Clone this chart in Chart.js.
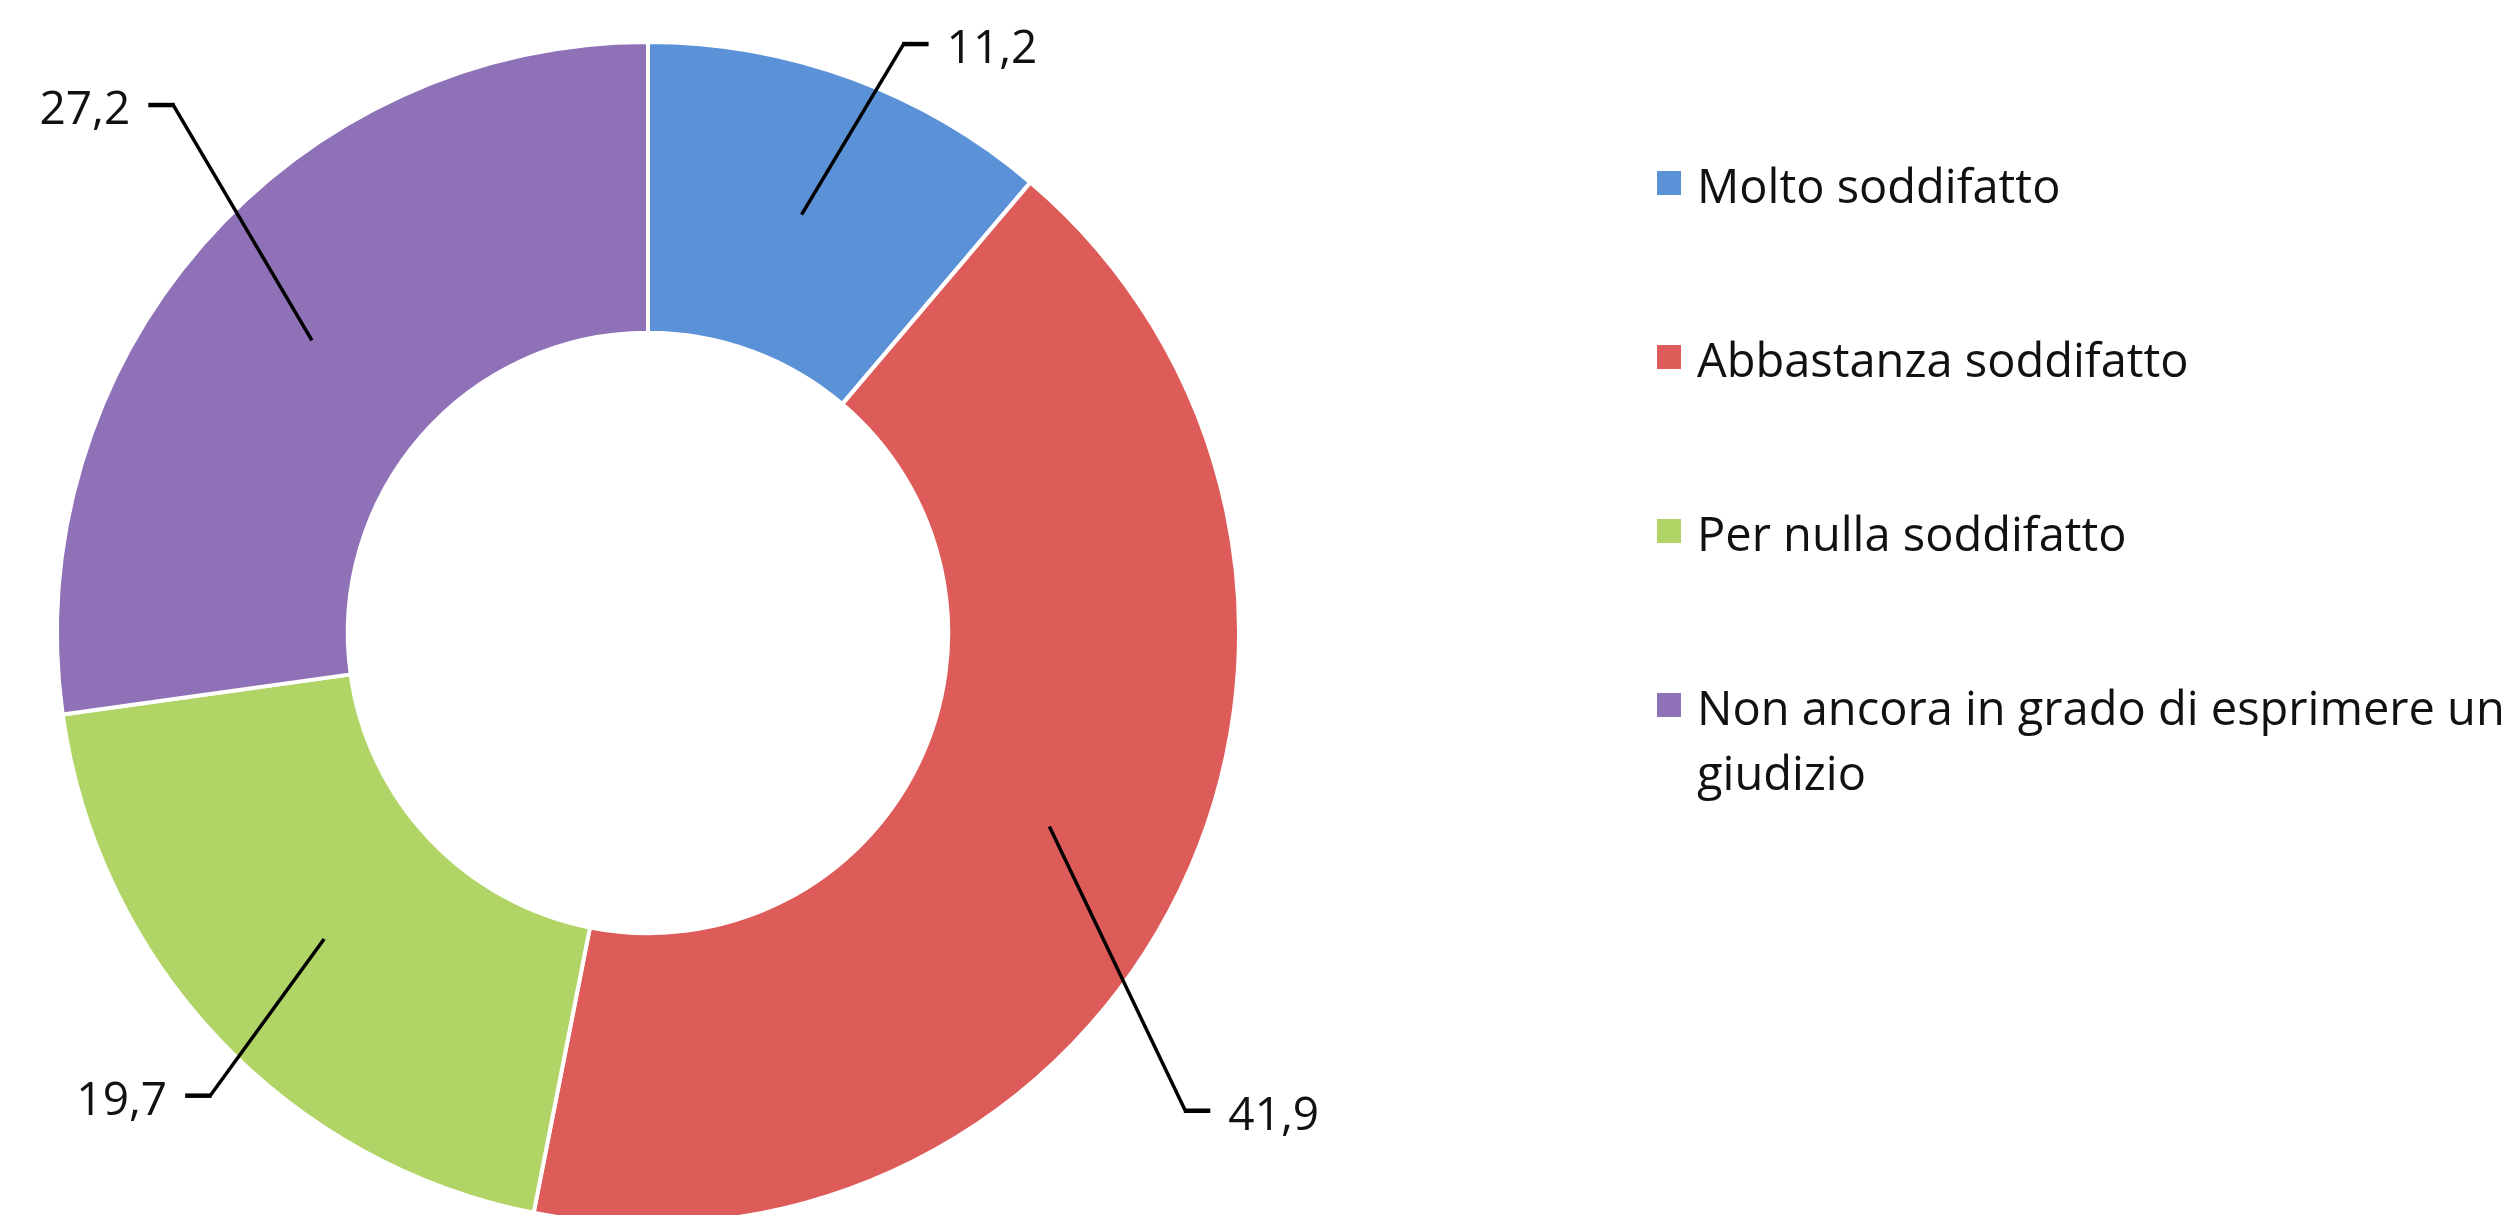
<!DOCTYPE html>
<html>
<head>
<meta charset="utf-8">
<script src="https://cdn.jsdelivr.net/npm/chart.js@4.4.1/dist/chart.umd.min.js"></script>
<style>
  html, body { margin: 0; padding: 0; background: #ffffff; overflow: hidden; width: 2520px; height: 1215px; }
  #wrap { position: relative; width: 2520px; height: 1215px; }
  #c { position: absolute; left: 0; top: 0; }
  #legend { position: absolute; left: 0; top: 0; width: 2520px; height: 1215px; pointer-events: none;
            font-family: 'Open Sans', sans-serif; font-size: 47px; line-height: 65px; color: #111; }
  .item { position: absolute; left: 1657px; width: 860px; }
  .swatch { position: absolute; left: 0; top: 18px; width: 24px; height: 24px; }
  .text { position: absolute; left: 40px; top: 0; width: 815px; white-space: normal; }
</style>
</head>
<body>
<div id="wrap">
  <canvas id="c" width="2520" height="1215"></canvas>
  <div id="legend"></div>
</div>
<script>
// ---- data ----
const categories = [
  'Molto soddifatto',
  'Abbastanza soddifatto',
  'Per nulla soddifatto',
  'Non ancora in grado di esprimere un giudizio'
];
const values = [11.2, 41.9, 19.7, 27.2];

// ---- styles ----
const sliceColors = ['#5B92D7', '#DD5B59', '#B1D467', '#8F71B7'];

function fmt(v) { return v.toFixed(1).replace('.', ','); }

const leaderPlugin = {
  id: 'leaders',
  afterDatasetsDraw(chart, args, opts) {
    const ctx = chart.ctx;
    const meta = chart.getDatasetMeta(0);
    const ds = chart.data.datasets[0];
    meta.data.forEach((arc, i) => {
      const p = arc.getProps(['x', 'y', 'startAngle', 'endAngle', 'innerRadius', 'outerRadius'], true);
      const place = opts.placement[i];
      const mid = (p.startAngle + p.endAngle) / 2;
      const rIn = (p.innerRadius + p.outerRadius) / 2;
      const x0 = p.x + Math.cos(mid) * rIn;
      const y0 = p.y + Math.sin(mid) * rIn;
      const a = mid + place.dAngle * Math.PI / 180;
      const r = p.outerRadius + place.ext;
      const x1 = p.x + Math.cos(a) * r;
      const y1 = p.y + Math.sin(a) * r;
      const dir = Math.cos(a) >= 0 ? 1 : -1;
      const x2 = x1 + dir * opts.tick;
      ctx.save();
      ctx.strokeStyle = '#000';
      ctx.lineWidth = opts.lineWidth;
      ctx.lineJoin = 'miter';
      ctx.beginPath();
      ctx.moveTo(x0, y0);
      ctx.lineTo(x1, y1);
      ctx.stroke();
      ctx.lineWidth = opts.tickWidth;
      ctx.beginPath();
      ctx.moveTo(x1 - dir * 1.5, y1);
      ctx.lineTo(x2, y1);
      ctx.stroke();
      ctx.font = opts.font;
      ctx.fillStyle = '#111';
      ctx.textAlign = dir > 0 ? 'left' : 'right';
      ctx.textBaseline = 'alphabetic';
      ctx.fillText(fmt(ds.data[i]), x2 + dir * opts.gap, y1 + opts.baselineShift);
      ctx.restore();
    });
  }
};

const chart = new Chart(document.getElementById('c'), {
  type: 'doughnut',
  data: {
    labels: categories,
    datasets: [{
      data: values,
      backgroundColor: sliceColors,
      borderColor: '#ffffff',
      borderWidth: 4
    }]
  },
  options: {
    responsive: false,
    animation: false,
    radius: 591,
    cutout: '50.8%',
    layout: { padding: { top: 51, bottom: 0, left: 0, right: 1224 } },
    plugins: {
      legend: { display: false },
      tooltip: { enabled: false },
      leaders: {
        placement: [
          { dAngle: 3.3, ext: 51 },
          { dAngle: 15.9, ext: 128 },
          { dAngle: -3.2, ext: 46 },
          { dAngle: 7.0, ext: 119 }
        ],
        tick: 25,
        gap: 18,
        lineWidth: 3.5,
        tickWidth: 4.5,
        baselineShift: 19,
        font: "46px 'Open Sans', sans-serif"
      }
    }
  },
  plugins: [leaderPlugin]
});

// HTML legend built from the chart's own data
const legendEl = document.getElementById('legend');
chart.data.labels.forEach((lab, i) => {
  const item = document.createElement('div');
  item.className = 'item';
  item.style.top = (153 + i * 174) + 'px';
  const sw = document.createElement('div');
  sw.className = 'swatch';
  sw.style.background = chart.data.datasets[0].backgroundColor[i];
  const tx = document.createElement('div');
  tx.className = 'text';
  tx.textContent = lab;
  item.appendChild(sw);
  item.appendChild(tx);
  legendEl.appendChild(item);
});
</script>
</body>
</html>
